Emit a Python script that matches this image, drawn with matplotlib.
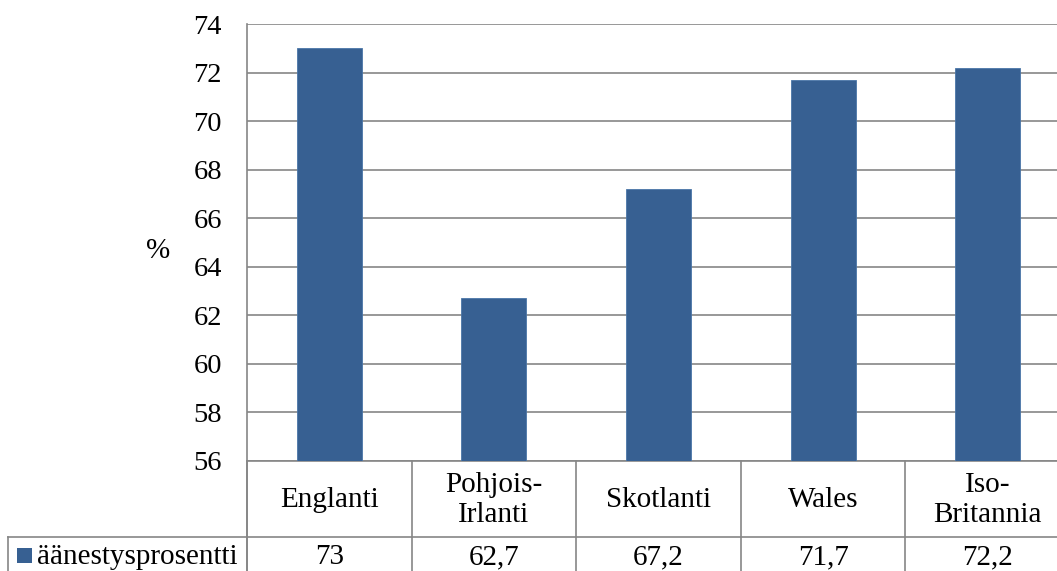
import matplotlib
matplotlib.use("Agg")
import matplotlib.pyplot as plt
from matplotlib.transforms import blended_transform_factory
from matplotlib.patches import Rectangle

categories = ["Englanti", "Pohjois-\nIrlanti", "Skotlanti", "Wales", "Iso-\nBritannia"]
values = [73, 62.7, 67.2, 71.7, 72.2]
value_labels = ["73", "62,7", "67,2", "71,7", "72,2"]
series_name = "äänestysprosentti"
yticks = [56, 58, 60, 62, 64, 66, 68, 70, 72, 74]

W, H = 1057, 571
plt.rcParams['font.family'] = ['Liberation Serif', 'DejaVu Serif']
fig = plt.figure(figsize=(W / 100, H / 100), dpi=100)
fig.patch.set_facecolor('white')

FS = 21
left, right, top, bottom = 247, 1070, 24, 461
ax = fig.add_axes([left / W, 1 - bottom / H, (right - left) / W, (bottom - top) / H])
bar_color = '#376092'
grid_color = '#868686'

x = list(range(len(categories)))
ax.bar(x, values, width=0.395, color=bar_color, edgecolor='#4a76a8', linewidth=0.6, zorder=3)
ax.set_xlim(-0.5, len(categories) - 0.5)
ax.set_ylim(56, 74)
ax.set_yticks(yticks)
ax.set_yticklabels([str(t) for t in yticks], fontsize=20.5)
ax.tick_params(axis='y', length=0, pad=18)
ax.tick_params(axis='x', length=0, labelbottom=False)
ax.yaxis.grid(True, color=grid_color, linewidth=1.2, zorder=0)
for s in ['top', 'right', 'bottom']:
    ax.spines[s].set_visible(False)
ax.spines['left'].set_color(grid_color)
ax.spines['left'].set_linewidth(1.2)
fig.text(158 / W, 1 - 251 / H, '%', fontsize=FS, ha='center', va='center')

# data table
def fy(py):
    return 1 - py / H

trans = blended_transform_factory(ax.transData, fig.transFigure)
row_y = 537
for i in range(len(categories) + 1):
    xb = i - 0.5
    ax.add_line(plt.Line2D([xb, xb], [fy(bottom), fy(H + 5)], transform=trans,
                           color=grid_color, linewidth=1.2, clip_on=False))
ax.add_line(plt.Line2D([left / W, right / W], [fy(bottom), fy(bottom)], transform=fig.transFigure,
                       color=grid_color, linewidth=1.2, clip_on=False))
ax.add_line(plt.Line2D([8 / W, right / W], [fy(row_y), fy(row_y)], transform=fig.transFigure,
                       color=grid_color, linewidth=1.2, clip_on=False))
ax.add_line(plt.Line2D([8 / W, 8 / W], [fy(row_y), fy(H + 5)], transform=fig.transFigure,
                       color=grid_color, linewidth=1.2, clip_on=False))
ax.add_line(plt.Line2D([left / W, left / W], [fy(bottom), fy(H + 5)], transform=fig.transFigure,
                       color=grid_color, linewidth=1.2, clip_on=False))

for i, (c, v) in enumerate(zip(categories, value_labels)):
    ax.text(i, fy(500), c, transform=trans, ha='center', va='center', fontsize=FS,
            linespacing=1.25, clip_on=False)
    ax.text(i, fy(557), v, transform=trans, ha='center', va='center', fontsize=FS, clip_on=False)

fig.patches.append(Rectangle((17 / W, fy(563)), 15 / W, 15 / H, transform=fig.transFigure,
                             facecolor=bar_color, edgecolor='none'))
fig.text(37 / W, fy(557), series_name, ha='left', va='center', fontsize=FS)

fig.savefig('out.png', dpi=100)
